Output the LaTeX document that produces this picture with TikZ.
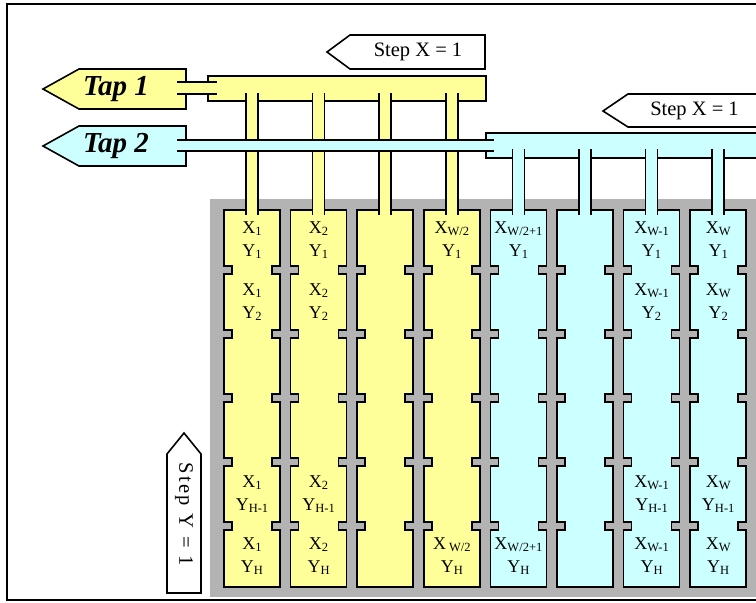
\documentclass[tikz,border=0pt]{standalone}
\usepackage{fontspec}
\setmainfont{Liberation Serif}
\definecolor{tapyellow}{HTML}{FFFF99}
\definecolor{tapcyan}{HTML}{CCFFFF}
\definecolor{gridgray}{HTML}{B3B3B3}
\newcommand{\sbs}[1]{\raisebox{-1.5pt}{\fontsize{12.5}{13}\selectfont #1}}

\begin{document}
\begin{tikzpicture}[x=1pt, y=-1pt, line width=1.6pt, line join=miter,
    cell/.style = {align=center, inner sep=0pt, font=\fontsize{18}{23}\selectfont},
    tap/.style = {font=\fontsize{29}{30}\selectfont\bfseries\itshape},
    steplabel/.style = {font=\fontsize{20.5}{22}\selectfont}]
    \useasboundingbox (0,0) rectangle (756,603);
    \clip (0,0) rectangle (756,603);

    % frame and memory background
    \draw[line width=1.5pt] (7,4) rectangle (800,600);
    \fill[gridgray] (210,199) rectangle (800,597);

    % buses
    \draw[fill=tapyellow] (208,76) rectangle (486,101);
    \draw[fill=tapcyan] (486,133) rectangle (820,158);

    % columns with notches
    \foreach \i in {0,...,7} {
        \pgfmathsetmacro\L{224+66.6*\i}
        \pgfmathsetmacro\R{\L+56}
        \ifnum\i<4 \def\colfill{tapyellow}\else\def\colfill{tapcyan}\fi
        \draw[fill=\colfill] (\L,210) -- (\R,210)
            \foreach \y in {270,334,398,462,526} { -- (\R,\y-4) -- (\R-8,\y-4) -- (\R-8,\y+4) -- (\R,\y+4) }
            -- (\R,587) -- (\L,587)
            \foreach \y in {526,462,398,334,270} { -- (\L,\y+4) -- (\L+8,\y+4) -- (\L+8,\y-4) -- (\L,\y-4) }
            -- cycle;
    }

    % feeders from the buses
    \foreach \i in {0,...,3} {
        \pgfmathsetmacro\cx{252+66.6*\i}
        \fill[tapyellow] (\cx-6,93) rectangle (\cx+6,215);
        \draw (\cx-6,93) -- (\cx-6,215) (\cx+6,93) -- (\cx+6,215);
    }
    \foreach \i in {4,...,7} {
        \pgfmathsetmacro\cx{252+66.6*\i}
        \fill[tapcyan] (\cx-6,149) rectangle (\cx+6,215);
        \draw (\cx-6,149) -- (\cx-6,215) (\cx+6,149) -- (\cx+6,215);
    }

    % taps
    \draw[fill=tapyellow] (43,89) -- (79,69) -- (186,69) -- (186,109) -- (79,109) -- cycle;
    \node[tap] (tap1) at (116,89) {Tap 1};
    \draw[fill=tapcyan] (43,146) -- (79,126) -- (186,126) -- (186,166) -- (79,166) -- cycle;
    \node[tap] (tap2) at (116,146) {Tap 2};

    \fill[tapyellow] (177,82) rectangle (217,94);
    \draw (177,82) -- (217,82) (177,94) -- (217,94);
    \fill[tapcyan] (177,140) rectangle (494,151);
    \draw (177,140) -- (494,140) (177,151) -- (494,151);

    % step arrows
    \draw[fill=white] (327,52) -- (350,35) -- (485,35) -- (485,69) -- (350,69) -- cycle;
    \node[steplabel] (stepx1) at (418,52) {Step X = 1};
    \draw[fill=white] (603,111) -- (628,94) -- (761,94) -- (761,127) -- (628,127) -- cycle;
    \node[steplabel] (stepx2) at (694.5,111) {Step X = 1};
    \draw[fill=white] (184,433) -- (201,454) -- (201,593) -- (167,593) -- (167,454) -- cycle;
    \node[steplabel, rotate=-90] (stepy) at (184,514) {\addfontfeature{LetterSpace=12}Step Y = 1};

    % cell labels
    \foreach \c/\xs in {0/1, 1/2, 6/{W-1}, 7/W} {
        \foreach \r/\ys in {240/1, 302/2, 494/{H-1}, 556/H} {
            \node[cell] (c\c-\r) at ({252+66.6*\c},\r) {X\sbs{\xs}\\Y\sbs{\ys}};
        }
    }
    \node[cell] (c3-240) at (451.8,240) {X\sbs{W/2}\\Y\sbs{1}};
    \node[cell] (c3-556) at (451.8,556) {X\,\sbs{W/2}\\Y\sbs{H}};
    \node[cell] (c4-240) at (518.4,240) {X\sbs{W/2+1}\\Y\sbs{1}};
    \node[cell] (c4-556) at (518.4,556) {X\sbs{W/2+1}\\Y\sbs{H}};
\end{tikzpicture}
\end{document}
